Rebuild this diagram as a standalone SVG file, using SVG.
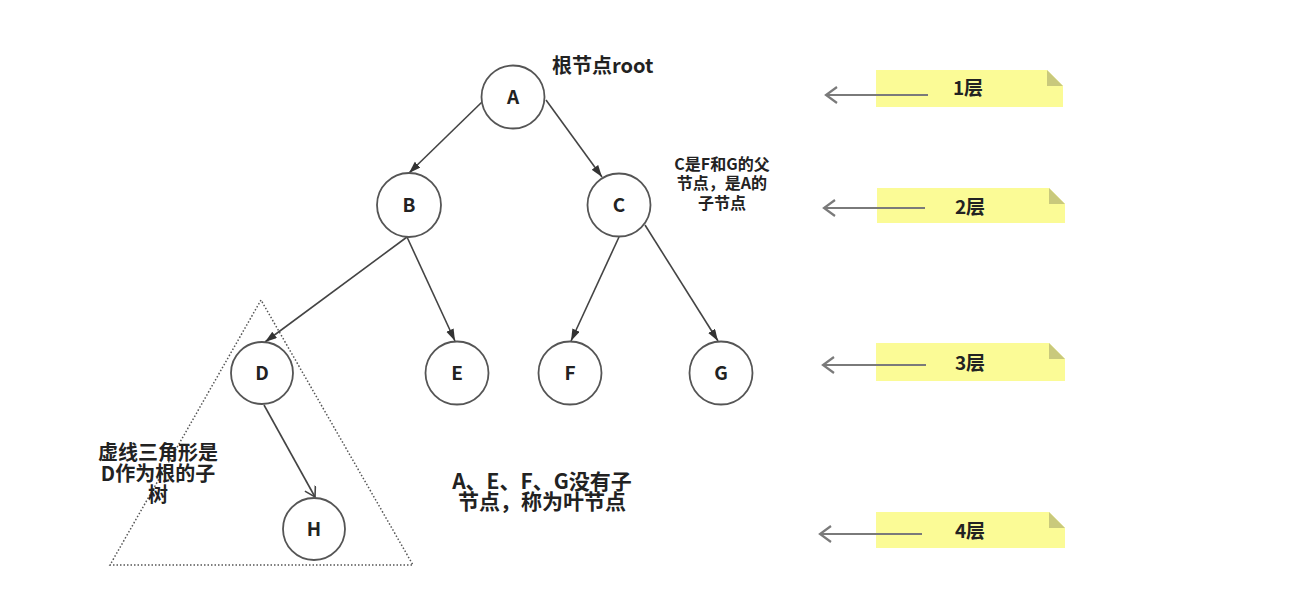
<svg xmlns="http://www.w3.org/2000/svg" width="1302" height="596" viewBox="0 0 1302 596">
<defs>
<style>
.node circle{fill:#fff;stroke:#555;stroke-width:1.8}
.node text{font-family:"Noto Sans CJK SC","Noto Sans",sans-serif;font-weight:bold;font-size:19px;fill:#222;text-anchor:middle}
.edge{stroke:#444;stroke-width:1.6;fill:none}
.lbl{font-family:"Noto Sans CJK SC","Noto Sans",sans-serif;font-weight:bold;fill:#222;text-anchor:middle}
.note{fill:#fbfb96}
.fold{fill:#c9c97c}
.lvl{stroke:#7a7a7a;stroke-width:2.2;fill:none}
</style>
<marker id="fa" markerUnits="userSpaceOnUse" markerWidth="13" markerHeight="9" refX="12" refY="4" orient="auto">
<path d="M0,0 L12,4 L0,8 z" fill="#333"/>
</marker>
<marker id="oa" markerUnits="userSpaceOnUse" markerWidth="14" markerHeight="14" refX="11" refY="6" orient="auto">
<path d="M1,0 L11,6 L1,12" fill="none" stroke="#444" stroke-width="1.6"/>
</marker>
<marker id="la" markerUnits="userSpaceOnUse" markerWidth="14" markerHeight="20" refX="12" refY="9" orient="auto">
<path d="M1,1 L12,9 L1,17" fill="none" stroke="#7a7a7a" stroke-width="2.2"/>
</marker>
</defs>
<rect width="1302" height="596" fill="#fff"/>

<g id="subtree-triangle">
<polygon points="261,300 110,565 413,565" fill="none" stroke="#555" stroke-width="1.5" stroke-dasharray="1.5 2"/>
</g>

<g id="connectors">
<line class="edge" x1="482" y1="102" x2="409" y2="173" marker-end="url(#fa)"/>
<line class="edge" x1="546" y1="100" x2="602" y2="177" marker-end="url(#fa)"/>
<line class="edge" x1="407" y1="237" x2="265" y2="342" marker-end="url(#fa)"/>
<line class="edge" x1="407" y1="237" x2="455" y2="341" marker-end="url(#fa)"/>
<line class="edge" x1="619" y1="237" x2="571" y2="341" marker-end="url(#fa)"/>
<line class="edge" x1="645" y1="225" x2="718" y2="341" marker-end="url(#fa)"/>
<line class="edge" x1="264" y1="405" x2="315" y2="497" marker-end="url(#oa)"/>
</g>

<g id="node-A" class="node"><circle cx="513" cy="97" r="31.5"/><text x="513" y="104">A</text></g>
<g id="node-B" class="node"><circle cx="409" cy="205" r="32"/><text x="409" y="212">B</text></g>
<g id="node-C" class="node"><circle cx="619" cy="205" r="31.5"/><text x="619" y="212">C</text></g>
<g id="node-D" class="node"><circle cx="262" cy="373" r="31"/><text x="262" y="380">D</text></g>
<g id="node-E" class="node"><circle cx="457" cy="373" r="31.5"/><text x="457" y="380">E</text></g>
<g id="node-F" class="node"><circle cx="570" cy="373" r="31.5"/><text x="570" y="380">F</text></g>
<g id="node-G" class="node"><circle cx="721" cy="373" r="31.5"/><text x="721" y="380">G</text></g>
<g id="node-H" class="node"><circle cx="314" cy="529" r="31"/><text x="314" y="536">H</text></g>

<g id="label-root"><text class="lbl" x="552" y="73" font-size="20" style="text-anchor:start">根节点root</text></g>
<g id="label-C">
<text class="lbl" x="722" y="170" font-size="16">C是F和G的父</text>
<text class="lbl" x="722" y="189" font-size="16">节点，是A的</text>
<text class="lbl" x="722" y="209" font-size="16">子节点</text>
</g>
<g id="label-subtree">
<text class="lbl" x="158" y="460" font-size="20">虚线三角形是</text>
<text class="lbl" x="158" y="481" font-size="20">D作为根的子</text>
<text class="lbl" x="158" y="502" font-size="20">树</text>
</g>
<g id="label-leaf">
<text class="lbl" x="542" y="489" font-size="21">A、E、F、G没有子</text>
<text class="lbl" x="542" y="509" font-size="21">节点，称为叶节点</text>
</g>

<g id="level-1">
<polygon class="note" points="876,70 1047,70 1063,86 1063,107 876,107"/>
<polygon class="fold" points="1047,70 1063,86 1047,86"/>
<text class="lbl" x="968" y="95" font-size="19">1层</text>
</g>
<g id="level-2">
<polygon class="note" points="877,188 1049,188 1065,204 1065,223 877,223"/>
<polygon class="fold" points="1049,188 1065,204 1049,204"/>
<text class="lbl" x="970" y="214" font-size="19">2层</text>
</g>
<g id="level-3">
<polygon class="note" points="876,343 1049,343 1065,359 1065,381 876,381"/>
<polygon class="fold" points="1049,343 1065,359 1049,359"/>
<text class="lbl" x="970" y="370" font-size="19">3层</text>
</g>
<g id="level-4">
<polygon class="note" points="876,512 1049,512 1065,528 1065,548 876,548"/>
<polygon class="fold" points="1049,512 1065,528 1049,528"/>
<text class="lbl" x="970" y="538" font-size="19">4层</text>
</g>

<g id="level-arrows">
<line class="lvl" x1="928" y1="95" x2="826" y2="95" marker-end="url(#la)"/>
<line class="lvl" x1="925" y1="208" x2="824" y2="208" marker-end="url(#la)"/>
<line class="lvl" x1="926" y1="365" x2="823" y2="365" marker-end="url(#la)"/>
<line class="lvl" x1="922" y1="534" x2="820" y2="534" marker-end="url(#la)"/>
</g>
</svg>
